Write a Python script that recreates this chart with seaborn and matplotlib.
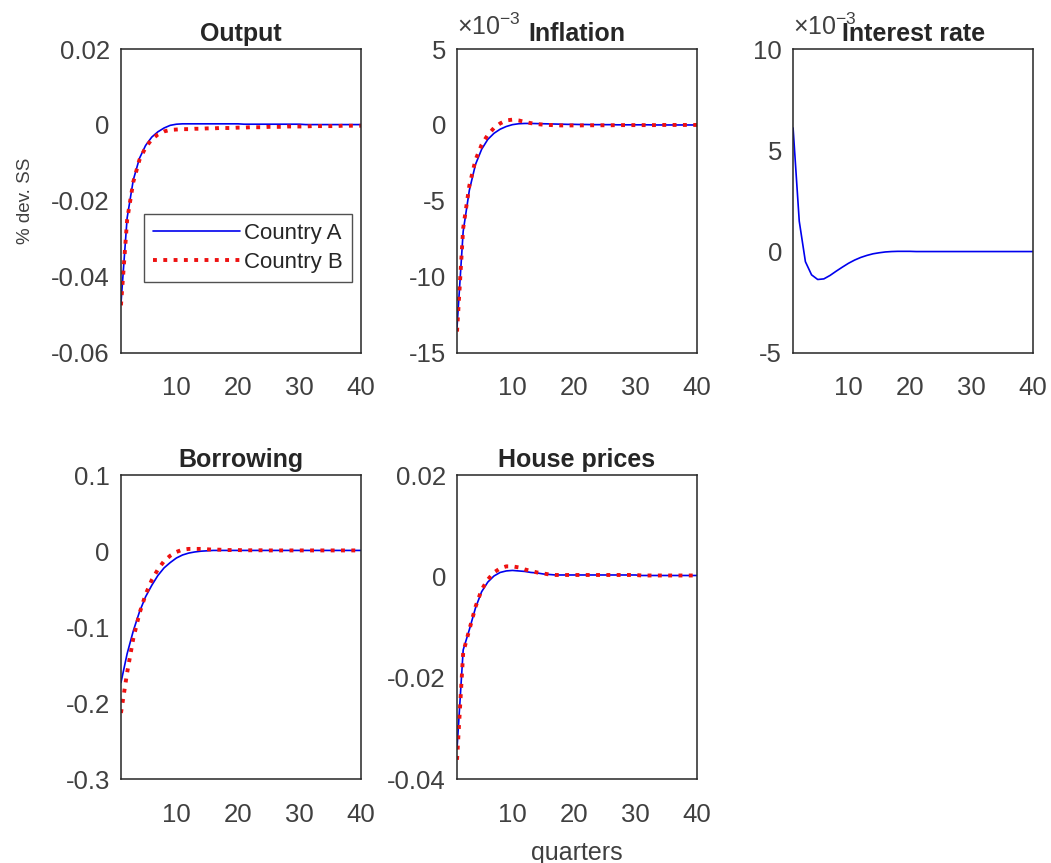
import matplotlib
matplotlib.use("Agg")
import matplotlib.pyplot as plt
import seaborn as sns

# quarters 1..40
quarters = list(range(1, 41))

# Output (% dev. from SS)
output_a = [-0.0470, -0.0245, -0.0145, -0.0088, -0.0054, -0.0032, -0.0018, -0.0008, -0.0001, 0.0002,
            0.0003, 0.0003, 0.0003, 0.0003, 0.0003, 0.0003, 0.0003, 0.0003, 0.0003, 0.0003,
            0.0002, 0.0002, 0.0002, 0.0002, 0.0002, 0.0002, 0.0002, 0.0002, 0.0002, 0.0002,
            0.0001, 0.0001, 0.0001, 0.0001, 0.0001, 0.0001, 0.0001, 0.0001, 0.0001, 0.0001]
output_b = [-0.0475, -0.0250, -0.0150, -0.0092, -0.0059, -0.0038, -0.0025, -0.0017, -0.0013, -0.0012,
            -0.0011, -0.0011, -0.0010, -0.0010, -0.0009, -0.0009, -0.0008, -0.0008, -0.0008, -0.0007,
            -0.0007, -0.0006, -0.0006, -0.0006, -0.0005, -0.0005, -0.0005, -0.0004, -0.0004, -0.0004,
            -0.0004, -0.0003, -0.0003, -0.0003, -0.0003, -0.0003, -0.0002, -0.0002, -0.0002, -0.0002]

# Inflation
inflation_a = [-13.3e-3, -7.0e-3, -4.3e-3, -2.6e-3, -1.6e-3, -0.95e-3, -0.55e-3, -0.28e-3, -0.10e-3, 0.02e-3,
               0.08e-3, 0.10e-3, 0.10e-3, 0.09e-3, 0.08e-3, 0.07e-3, 0.06e-3, 0.05e-3, 0.04e-3, 0.04e-3,
               0.03e-3, 0.03e-3, 0.02e-3, 0.02e-3, 0.02e-3, 0.02e-3, 0.01e-3, 0.01e-3, 0.01e-3, 0.01e-3,
               0.01e-3, 0.01e-3, 0.0, 0.0, 0.0, 0.0, 0.0, 0.0, 0.0, 0.0]
inflation_b = [-13.6e-3, -6.8e-3, -4.0e-3, -2.3e-3, -1.3e-3, -0.65e-3, -0.20e-3, 0.10e-3, 0.30e-3, 0.35e-3,
               0.30e-3, 0.20e-3, 0.12e-3, 0.06e-3, 0.02e-3, 0.0, -0.02e-3, -0.03e-3, -0.03e-3, -0.03e-3,
               -0.03e-3, -0.02e-3, -0.02e-3, -0.02e-3, -0.02e-3, -0.02e-3, -0.01e-3, -0.01e-3, -0.01e-3, -0.01e-3,
               -0.01e-3, -0.01e-3, -0.01e-3, 0.0, 0.0, 0.0, 0.0, 0.0, 0.0, 0.0]

# Interest rate (common)
interest_a = [6.1e-3, 1.5e-3, -0.5e-3, -1.15e-3, -1.38e-3, -1.35e-3, -1.18e-3, -0.97e-3, -0.77e-3, -0.58e-3,
              -0.42e-3, -0.29e-3, -0.19e-3, -0.11e-3, -0.06e-3, -0.02e-3, 0.0, 0.01e-3, 0.01e-3, 0.01e-3,
              0.0, 0.0, 0.0, 0.0, 0.0, 0.0, 0.0, 0.0, 0.0, 0.0,
              0.0, 0.0, 0.0, 0.0, 0.0, 0.0, 0.0, 0.0, 0.0, 0.0]

# Borrowing
borrowing_a = [-0.173, -0.135, -0.105, -0.080, -0.060, -0.045, -0.032, -0.022, -0.015, -0.009,
               -0.005, -0.0025, -0.001, 0.0, 0.0005, 0.001, 0.001, 0.001, 0.001, 0.001,
               0.001, 0.001, 0.001, 0.001, 0.001, 0.001, 0.001, 0.001, 0.001, 0.001,
               0.001, 0.001, 0.001, 0.001, 0.001, 0.001, 0.001, 0.001, 0.001, 0.001]
borrowing_b = [-0.213, -0.160, -0.115, -0.082, -0.057, -0.038, -0.024, -0.013, -0.006, -0.001,
               0.002, 0.003, 0.003, 0.003, 0.0025, 0.002, 0.002, 0.0015, 0.0015, 0.0015,
               0.0012, 0.0012, 0.0012, 0.0012, 0.001, 0.001, 0.001, 0.001, 0.001, 0.001,
               0.001, 0.001, 0.001, 0.001, 0.001, 0.001, 0.001, 0.001, 0.001, 0.001]

# House prices
house_a = [-0.0340, -0.0145, -0.0105, -0.0062, -0.0030, -0.0011, 0.0001, 0.0008, 0.0011, 0.0012,
           0.0011, 0.0010, 0.0008, 0.0007, 0.0005, 0.0004, 0.0003, 0.0003, 0.0003, 0.0003,
           0.0003, 0.0003, 0.0003, 0.0003, 0.0003, 0.0003, 0.0003, 0.0003, 0.0003, 0.0003,
           0.0002, 0.0002, 0.0002, 0.0002, 0.0002, 0.0002, 0.0002, 0.0002, 0.0002, 0.0002]
house_b = [-0.0362, -0.0150, -0.0105, -0.0060, -0.0026, -0.0006, 0.0008, 0.0016, 0.0020, 0.0020,
           0.0018, 0.0014, 0.0011, 0.0008, 0.0006, 0.0004, 0.0003, 0.0003, 0.0003, 0.0003,
           0.0003, 0.0003, 0.0003, 0.0003, 0.0003, 0.0003, 0.0003, 0.0003, 0.0003, 0.0003,
           0.0002, 0.0002, 0.0002, 0.0002, 0.0002, 0.0002, 0.0002, 0.0002, 0.0002, 0.0002]

titles = ["Output", "Inflation", "Interest rate", "Borrowing", "House prices"]
series_a = [output_a, inflation_a, interest_a, borrowing_a, house_a]
series_b = [output_b, inflation_b, None, borrowing_b, house_b]
y_limits = [(-0.06, 0.02), (-15e-3, 5e-3), (-5e-3, 10e-3), (-0.3, 0.1), (-0.04, 0.02)]
y_ticks = [[-0.06, -0.04, -0.02, 0, 0.02],
           [-15e-3, -10e-3, -5e-3, 0, 5e-3],
           [-5e-3, 0, 5e-3, 10e-3],
           [-0.3, -0.2, -0.1, 0, 0.1],
           [-0.04, -0.02, 0, 0.02]]
y_ticklabels = [["-0.06", "-0.04", "-0.02", "0", "0.02"],
                ["-15", "-10", "-5", "0", "5"],
                ["-5", "0", "5", "10"],
                ["-0.3", "-0.2", "-0.1", "0", "0.1"],
                ["-0.04", "-0.02", "0", "0.02"]]
scaled = [False, True, True, False, False]

sns.set_theme(style="white")
plt.rcParams["font.family"] = ["Liberation Sans", "DejaVu Sans"]
plt.rcParams["axes.unicode_minus"] = False
plt.rcParams["mathtext.fontset"] = "custom"
plt.rcParams["mathtext.rm"] = "Liberation Sans"

fig, axes = plt.subplots(2, 3, figsize=(10.51, 8.63), dpi=100)
fig.subplots_adjust(left=0.1151, right=0.983, top=0.9432, bottom=0.0973, wspace=0.40, hspace=0.403)
axes = axes.flatten()
axes[5].remove()

for i, ax in enumerate(axes[:5]):
    sns.lineplot(x=quarters, y=series_a[i], ax=ax, color="#0000ee", linewidth=1.2,
                 label="Country A" if i == 0 else None)
    if series_b[i] is not None:
        sns.lineplot(x=quarters, y=series_b[i], ax=ax, color="#ee1111", linewidth=2.8,
                     linestyle=":", label="Country B" if i == 0 else None)
    ax.set_xlim(1, 40)
    ax.set_xticks([10, 20, 30, 40])
    ax.set_ylim(*y_limits[i])
    ax.set_yticks(y_ticks[i])
    ax.set_yticklabels(y_ticklabels[i])
    if scaled[i]:
        # exponent label drawn by hand, like MATLAB's axis multiplier
        ax.text(0.0, 1.045, r"$\times$10$^{-3}$", transform=ax.transAxes, fontsize=18,
                color="#404040", ha="left", va="baseline")
    ax.set_title(titles[i], fontsize=18, fontweight="bold", pad=6)
    ax.tick_params(axis="both", labelsize=18.5, length=0, colors="#404040")
    ax.tick_params(axis="x", pad=17)
    ax.tick_params(axis="y", pad=8)
    for sp in ax.spines.values():
        sp.set_visible(True)
        sp.set_color("#262626")
        sp.set_linewidth(1.1)
    if ax.get_legend() is not None and i != 0:
        ax.get_legend().remove()

axes[0].set_ylabel("% dev. SS", fontsize=13.5, color="#404040", labelpad=12)
axes[4].set_xlabel("quarters", fontsize=18, color="#404040", labelpad=10)

leg = axes[0].legend(loc="upper left", bbox_to_anchor=(0.096, 0.456), borderaxespad=0,
                     fontsize=16, handlelength=3.9, handletextpad=0.2, labelspacing=0.35,
                     borderpad=0.4, fancybox=False, frameon=True)
leg.get_frame().set_edgecolor("#262626")
leg.get_frame().set_linewidth(1.0)

fig.savefig("out.png", dpi=100)
